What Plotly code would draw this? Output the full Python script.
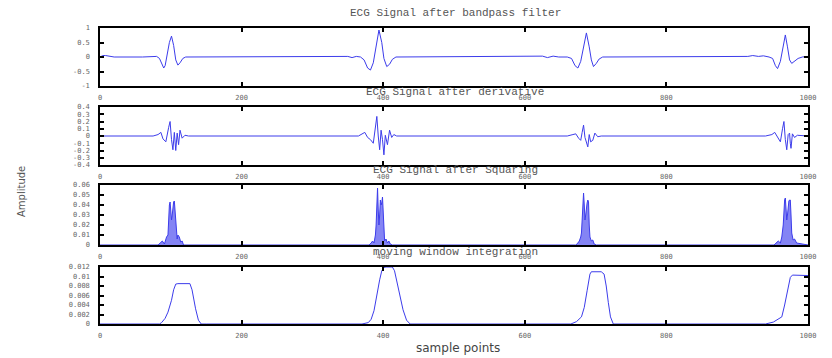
import plotly.graph_objects as go

# ---------------- data ----------------
titles = ["ECG Signal after bandpass filter", "ECG Signal after derivative",
          "ECG Signal after Squaring", "moving window integration"]

x_ticks = [0, 200, 400, 600, 800, 1000]

# panel 1: bandpass filtered signal
bp_x = [0, 4, 8, 14, 20, 60, 75, 80, 84, 88, 90, 92, 95, 98, 101, 104, 107, 110, 113, 117, 121, 126,
        350, 356, 362, 368, 373, 378, 382, 386, 390, 394, 398, 401, 405, 409, 413, 418,
        625, 632, 640, 648, 660, 666, 671, 675, 679, 683, 687, 691, 694, 697, 701, 705, 710,
        915, 922, 930, 937, 945, 950, 954, 957, 961, 965, 968, 971, 974, 977, 981, 986, 992, 1000]
bp_y = [0.0, 0.05, 0.05, 0.02, 0.0, 0.0, 0.0, 0.02, -0.05, -0.3, -0.38, -0.3, 0.05, 0.5, 0.72, 0.4, -0.1, -0.28, -0.2, -0.05, 0.0, 0.0,
        0.02, -0.02, 0.02, 0.0, -0.1, -0.38, -0.45, -0.2, 0.4, 0.93, 0.5, -0.05, -0.33, -0.25, -0.08, 0.0,
        0.03, -0.02, 0.03, 0.0, 0.0, -0.05, -0.3, -0.38, -0.15, 0.4, 0.83, 0.35, -0.1, -0.33, -0.22, -0.07, 0.0,
        0.02, 0.05, 0.02, 0.04, 0.0, -0.05, -0.3, -0.4, -0.15, 0.4, 0.76, 0.35, -0.1, -0.22, -0.15, -0.05, 0.0, 0.02]

# panel 2: derivative
dv_x = [0, 75, 82, 86, 89, 93, 97, 99, 101, 103, 105, 107, 109, 111, 113, 116, 120, 125,
        365, 370, 374, 378, 382, 386, 389, 391, 393, 395, 397, 399, 401, 403, 406, 409, 412, 415, 419,
        660, 668, 672, 676, 679, 681, 683, 685, 687, 689, 691, 693, 696, 699, 703, 708,
        940, 949, 953, 958, 961, 964, 966, 968, 970, 972, 974, 975, 976, 978, 981, 985, 1000]
dv_y = [0.0, 0.0, 0.02, 0.05, -0.04, -0.08, 0.12, 0.2, -0.05, -0.19, 0.05, -0.2, 0.04, -0.12, 0.08, -0.03, 0.01, 0.0,
        0.0, 0.03, 0.05, -0.02, -0.05, -0.1, 0.1, 0.27, 0.0, -0.19, 0.08, -0.05, -0.26, 0.01, -0.12, 0.08, -0.02, 0.02, 0.0,
        0.0, 0.02, 0.03, -0.03, -0.06, 0.05, 0.15, -0.02, -0.1, -0.15, 0.02, -0.08, -0.06, 0.04, -0.01, 0.0,
        0.0, 0.02, 0.05, -0.03, -0.08, 0.1, 0.2, -0.05, -0.19, 0.02, 0.04, -0.1, -0.17, 0.03, -0.02, 0.01, 0.0]

# panel 3: squared signal
sq_x = [0, 82, 85, 88, 91, 94, 96, 97, 98, 99, 100, 101, 102, 103, 104, 105, 106, 107, 108, 109, 110, 112, 114, 116, 118,
        380, 383, 385, 387, 389, 390, 391, 392, 393, 394, 395, 396, 397, 398, 399, 400, 401, 402, 404, 406, 408, 410, 413,
        672, 675, 677, 679, 680, 681, 682, 683, 684, 685, 686, 687, 688, 689, 690, 691, 692, 694, 696, 698, 701,
        952, 955, 958, 961, 963, 965, 966, 967, 968, 969, 970, 971, 972, 973, 974, 975, 976, 977, 979, 981, 984, 1000]
sq_y = [0.0, 0.0, 0.002, 0.004, 0.001, 0.008, 0.01, 0.03, 0.04, 0.043, 0.035, 0.025, 0.03, 0.038, 0.043, 0.044, 0.035, 0.02, 0.008, 0.006, 0.01, 0.008, 0.003, 0.004, 0.0,
        0.0, 0.002, 0.004, 0.002, 0.01, 0.02, 0.04, 0.057, 0.035, 0.02, 0.03, 0.045, 0.04, 0.042, 0.048, 0.03, 0.01, 0.004, 0.006, 0.002, 0.004, 0.001, 0.0,
        0.0, 0.002, 0.004, 0.008, 0.012, 0.025, 0.04, 0.052, 0.04, 0.025, 0.03, 0.04, 0.042, 0.045, 0.043, 0.02, 0.008, 0.004, 0.005, 0.001, 0.0,
        0.0, 0.002, 0.004, 0.002, 0.008, 0.02, 0.035, 0.045, 0.047, 0.035, 0.025, 0.03, 0.04, 0.044, 0.045, 0.045, 0.03, 0.012, 0.005, 0.006, 0.002, 0.0]

# panel 4: moving window integration
mw_x = [0, 84, 87, 92, 96, 101, 104, 107, 110, 127, 130, 132, 135, 139, 143, 150,
        370, 379, 383, 387, 391, 395, 398, 401, 404, 413, 416, 420, 424, 428, 433, 438,
        665, 673, 680, 684, 688, 692, 694, 708, 712, 715, 718, 721, 725, 730,
        940, 951, 963, 967, 971, 975, 978, 985, 1000]
mw_y = [0.0, 0.0, 0.0003, 0.0012, 0.0025, 0.005, 0.0072, 0.0084, 0.0085, 0.0085, 0.0072, 0.0055, 0.0032, 0.0008, 0.0, 0.0,
        0.0, 0.0003, 0.001, 0.0028, 0.0063, 0.0093, 0.0112, 0.0119, 0.012, 0.012, 0.0112, 0.0085, 0.0057, 0.003, 0.0008, 0.0,
        0.0, 0.0005, 0.0015, 0.0035, 0.007, 0.0105, 0.011, 0.011, 0.0105, 0.008, 0.0045, 0.0015, 0.0, 0.0,
        0.0, 0.0004, 0.0015, 0.004, 0.0072, 0.0098, 0.0103, 0.0103, 0.0102]

y_ranges = [[-1, 1], [-0.4, 0.4], [0, 0.06], [0, 0.012]]
y_tickvals = [[-1, -0.5, 0, 0.5, 1],
              [-0.4, -0.3, -0.2, -0.1, 0, 0.1, 0.2, 0.3, 0.4],
              [0, 0.01, 0.02, 0.03, 0.04, 0.05, 0.06],
              [0, 0.002, 0.004, 0.006, 0.008, 0.01, 0.012]]
y_ticktext = [["-1", "-0.5", "0", "0.5", "1"],
              ["-0.4", "-0.3", "-0.2", "-0.1", "0", "0.1", "0.2", "0.3", "0.4"],
              ["0", "0.01", "0.02", "0.03", "0.04", "0.05", "0.06"],
              ["0", "0.002", "0.004", "0.006", "0.008", "0.01", "0.012"]]

# ---------------- layout (pixel geometry) ----------------
W, H = 832, 358
x_left, x_right = 100, 808
panels_px = [(28, 86), (107, 165), (185, 245), (267, 324)]  # (top, bottom)

line_color = "rgb(60,60,235)"
fig = go.Figure()

series = [(bp_x, bp_y, False), (dv_x, dv_y, False), (sq_x, sq_y, True), (mw_x, mw_y, False)]
for i, (xs, ys, filled) in enumerate(series):
    sfx = "" if i == 0 else str(i + 1)
    fig.add_trace(go.Scatter(
        x=xs, y=ys, mode="lines",
        line=dict(color=line_color, width=1),
        fill="tozeroy" if filled else None,
        fillcolor="rgba(80,80,240,0.7)" if filled else None,
        xaxis="x" + sfx, yaxis="y" + sfx, showlegend=False, hoverinfo="skip"))

tick_font = dict(family="DejaVu Sans Mono", size=7, color="#666666")
layout = dict(width=W, height=H, margin=dict(l=0, r=0, t=0, b=0, autoexpand=False),
              paper_bgcolor="white", plot_bgcolor="white", showlegend=False)
annotations = []
for i, (top, bot) in enumerate(panels_px):
    sfx = "" if i == 0 else str(i + 1)
    ydom = [1 - bot / H, 1 - top / H]
    layout["xaxis" + sfx] = dict(
        domain=[x_left / W, x_right / W], anchor="y" + sfx, range=[0, 1000],
        tickvals=x_ticks, ticktext=[str(v) for v in x_ticks],
        ticks="inside", ticklen=4, tickwidth=1.5, tickcolor="black",
        showline=True, linecolor="black", linewidth=1.5, mirror="ticks",
        showgrid=False, zeroline=False, tickfont=tick_font, ticklabelstandoff=4)
    layout["yaxis" + sfx] = dict(
        domain=ydom, anchor="x" + sfx, range=y_ranges[i],
        tickvals=y_tickvals[i], ticktext=y_ticktext[i],
        ticks="inside", ticklen=4, tickwidth=1.5, tickcolor="black",
        showline=True, linecolor="black", linewidth=1.5, mirror="ticks",
        showgrid=False, zeroline=False, tickfont=tick_font, ticklabelstandoff=7)
    annotations.append(dict(
        text=titles[i], x=455 / W, y=1 - (top - 15) / H, xref="paper", yref="paper",
        xanchor="center", yanchor="middle", showarrow=False,
        font=dict(family="Liberation Mono", size=11, color="#555555")))

annotations.append(dict(text="Amplitude", x=21 / W, y=1 - 192 / H, xref="paper", yref="paper",
                        textangle=-90, showarrow=False, xanchor="center", yanchor="middle",
                        font=dict(family="DejaVu Sans", size=10, color="#555555")))
annotations.append(dict(text="sample points", x=458 / W, y=1 - 348 / H, xref="paper", yref="paper",
                        showarrow=False, xanchor="center", yanchor="middle",
                        font=dict(family="DejaVu Sans", size=12, color="#444444")))
layout["annotations"] = annotations
fig.update_layout(**layout)
fig.write_html("out.html", config={"displayModeBar": False},
               post_script="document.body.style.margin='0';document.body.style.overflow='hidden';")
